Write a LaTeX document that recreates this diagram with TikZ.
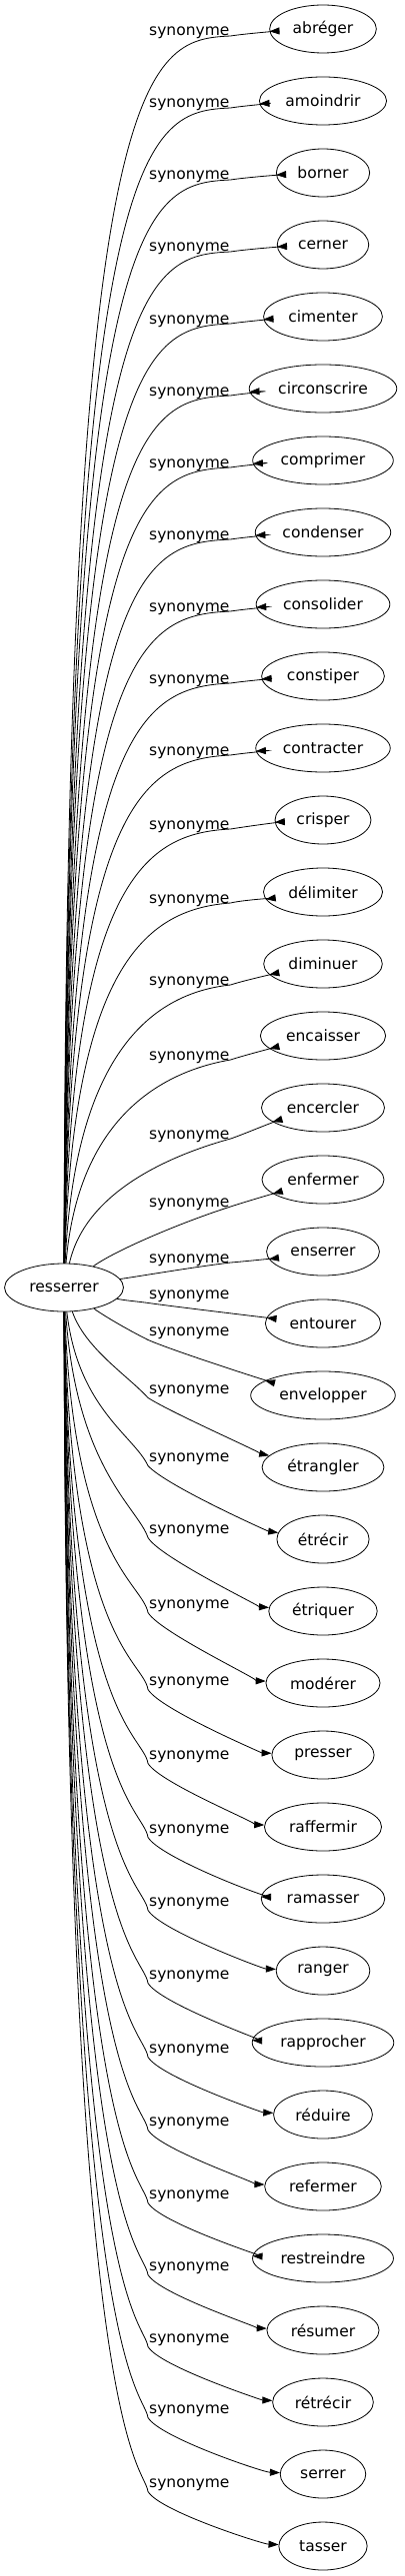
\documentclass[tikz,border=0pt]{standalone}
\usepackage{fontspec}
\setmainfont{DejaVu Sans}
\usetikzlibrary{shapes.geometric,arrows.meta}

\begin{document}
\begin{tikzpicture}[x=1pt,y=-1pt]
	\tikzstyle{nd} = [draw,ellipse,line width=0.8pt,inner xsep=7.4pt,inner ysep=2pt,minimum height=48pt,font=\fontsize{15.5}{18}\selectfont];
	\tikzstyle{lb} = [anchor=base west,inner sep=1pt,font=\fontsize{15.5}{18}\selectfont];
	\tikzstyle{ed} = [draw,line width=0.8pt,-{Triangle[length=10pt,width=7pt]}];
	\useasboundingbox (0,0) rectangle (404,2579);
	% source and targets
	\node [nd] (r) at (64,1289) {resserrer};
	\node [nd] (abreger) at (323,29) {abréger};
	\node [nd] (amoindrir) at (323,101) {amoindrir};
	\node [nd] (borner) at (323,173) {borner};
	\node [nd] (cerner) at (323,245) {cerner};
	\node [nd] (cimenter) at (323,317) {cimenter};
	\node [nd] (circonscrire) at (323,389) {circonscrire};
	\node [nd] (comprimer) at (323,461) {comprimer};
	\node [nd] (condenser) at (323,533) {condenser};
	\node [nd] (consolider) at (323,605) {consolider};
	\node [nd] (constiper) at (323,677) {constiper};
	\node [nd] (contracter) at (323,749) {contracter};
	\node [nd] (crisper) at (323,821) {crisper};
	\node [nd] (delimiter) at (323,893) {délimiter};
	\node [nd] (diminuer) at (323,965) {diminuer};
	\node [nd] (encaisser) at (323,1037) {encaisser};
	\node [nd] (encercler) at (323,1109) {encercler};
	\node [nd] (enfermer) at (323,1181) {enfermer};
	\node [nd] (enserrer) at (323,1253) {enserrer};
	\node [nd] (entourer) at (323,1325) {entourer};
	\node [nd] (envelopper) at (323,1397) {envelopper};
	\node [nd] (etrangler) at (323,1469) {étrangler};
	\node [nd] (etrecir) at (323,1541) {étrécir};
	\node [nd] (etriquer) at (323,1613) {étriquer};
	\node [nd] (moderer) at (323,1685) {modérer};
	\node [nd] (presser) at (323,1757) {presser};
	\node [nd] (raffermir) at (323,1829) {raffermir};
	\node [nd] (ramasser) at (323,1901) {ramasser};
	\node [nd] (ranger) at (323,1973) {ranger};
	\node [nd] (rapprocher) at (323,2045) {rapprocher};
	\node [nd] (reduire) at (323,2117) {réduire};
	\node [nd] (refermer) at (323,2189) {refermer};
	\node [nd] (restreindre) at (323,2261) {restreindre};
	\node [nd] (resumer) at (323,2333) {résumer};
	\node [nd] (retrecir) at (323,2405) {rétrécir};
	\node [nd] (serrer) at (323,2477) {serrer};
	\node [nd] (tasser) at (323,2549) {tasser};
	% edge labels
	\node [lb] (s0) at (148,36) {synonyme};
	\node [lb] (s1) at (148,108) {synonyme};
	\node [lb] (s2) at (148,180) {synonyme};
	\node [lb] (s3) at (148,252) {synonyme};
	\node [lb] (s4) at (148,324) {synonyme};
	\node [lb] (s5) at (148,396) {synonyme};
	\node [lb] (s6) at (148,468) {synonyme};
	\node [lb] (s7) at (148,540) {synonyme};
	\node [lb] (s8) at (148,612) {synonyme};
	\node [lb] (s9) at (148,684) {synonyme};
	\node [lb] (s10) at (148,756) {synonyme};
	\node [lb] (s11) at (148,830) {synonyme};
	\node [lb] (s12) at (148,904) {synonyme};
	\node [lb] (s13) at (148,986) {synonyme};
	\node [lb] (s14) at (148,1061) {synonyme};
	\node [lb] (s15) at (148,1140) {synonyme};
	\node [lb] (s16) at (148,1208) {synonyme};
	\node [lb] (s17) at (148,1264) {synonyme};
	\node [lb] (s18) at (148,1300) {synonyme};
	\node [lb] (s19) at (148,1337) {synonyme};
	\node [lb] (s20) at (148,1395) {synonyme};
	\node [lb] (s21) at (148,1463) {synonyme};
	\node [lb] (s22) at (148,1535) {synonyme};
	\node [lb] (s23) at (148,1610) {synonyme};
	\node [lb] (s24) at (148,1687) {synonyme};
	\node [lb] (s25) at (148,1761) {synonyme};
	\node [lb] (s26) at (148,1835) {synonyme};
	\node [lb] (s27) at (148,1908) {synonyme};
	\node [lb] (s28) at (148,1981) {synonyme};
	\node [lb] (s29) at (148,2055) {synonyme};
	\node [lb] (s30) at (148,2128) {synonyme};
	\node [lb] (s31) at (148,2201) {synonyme};
	\node [lb] (s32) at (148,2273) {synonyme};
	\node [lb] (s33) at (148,2345) {synonyme};
	\node [lb] (s34) at (148,2416) {synonyme};
	\node [lb] (s35) at (148,2490) {synonyme};
	% upper edges
	\draw [ed] (r) .. controls (66,56) and +(-84,4) .. (s0.base east) .. controls +(12,-2) and +(-45,2) .. (abreger);
	\draw [ed] (r) .. controls (67,128) and +(-84,4) .. (s1.base east) .. controls +(12,-2) and +(-45,2) .. (amoindrir);
	\draw [ed] (r) .. controls (67,200) and +(-84,4) .. (s2.base east) .. controls +(12,-2) and +(-45,2) .. (borner);
	\draw [ed] (r) .. controls (68,272) and +(-84,4) .. (s3.base east) .. controls +(12,-2) and +(-45,2) .. (cerner);
	\draw [ed] (r) .. controls (68,344) and +(-84,4) .. (s4.base east) .. controls +(12,-2) and +(-45,2) .. (cimenter);
	\draw [ed] (r) .. controls (69,416) and +(-84,4) .. (s5.base east) .. controls +(12,-2) and +(-45,2) .. (circonscrire);
	\draw [ed] (r) .. controls (69,488) and +(-84,4) .. (s6.base east) .. controls +(12,-2) and +(-45,2) .. (comprimer);
	\draw [ed] (r) .. controls (70,560) and +(-84,4) .. (s7.base east) .. controls +(12,-2) and +(-45,2) .. (condenser);
	\draw [ed] (r) .. controls (70,640) and +(-84,4) .. (s8.base east) .. controls +(12,-2) and +(-45,2) .. (consolider);
	\draw [ed] (r) .. controls (71,720) and +(-84,4) .. (s9.base east) .. controls +(12,-2) and +(-45,2) .. (constiper);
	\draw [ed] (r) .. controls (71,800) and +(-84,4) .. (s10.base east) .. controls +(12,-2) and +(-45,2) .. (contracter);
	\draw [ed] (r) .. controls (72,880) and +(-84,4) .. (s11.base east) .. controls +(12,-2) and +(-45,2) .. (crisper);
	\draw [ed] (r) .. controls (73,960) and +(-80,6) .. (s12.base east) .. controls +(12,-3) and +(-48,6) .. (delimiter);
	\draw [ed] (r) .. controls (75,1050) and +(-75,8) .. (s13.base east) .. controls +(12,-4) and +(-50,10) .. (diminuer);
	\draw [ed] (r) .. controls (78,1120) and +(-70,12) .. (s14.base east) .. controls +(12,-4) and +(-50,12) .. (encaisser);
	\draw [ed] (r) .. controls (85,1195) and +(-65,18) .. (s15.base east) .. controls +(12,-4) and +(-50,14) .. (encercler);
	\draw [ed] (r) .. controls (115,1252) and +(-50,16) .. (s16.base east) .. controls +(12,-4) and +(-50,14) .. (enfermer);
	\draw [ed] (r) .. controls (150,1276) and +(-40,5) .. (s17.base east) .. controls +(12,-1) and +(-50,7) .. (enserrer);
	% lower edges
	\draw [ed] (r) .. controls (125,1302) and +(-15,-2) .. (s18.south west) .. controls +(20,3) and +(-50,-5) .. (entourer);
	\draw [ed] (r) .. controls (105,1318) and +(-20,-10) .. (s19.south west) .. controls +(25,11) and +(-55,-14) .. (envelopper);
	\draw [ed] (r) .. controls (85,1350) and +(-20,-22) .. (s20.south west) .. controls +(25,16) and +(-55,-12) .. (etrangler);
	\draw [ed] (r) .. controls (78,1410) and +(-14,-30) .. (s21.south west) .. controls +(18,20) and +(-55,-8) .. (etrecir);
	\draw [ed] (r) .. controls (76,1470) and +(-10,-30) .. (s22.south west) .. controls +(12,20) and +(-60,-4) .. (etriquer);
	\draw [ed] (r) .. controls (73,1560) and +(-6,-30) .. (s23.south west) .. controls +(12,20) and +(-60,-2) .. (moderer);
	\draw [ed] (r) .. controls (71,1645) and +(-5,-30) .. (s24.south west) .. controls +(12,20) and +(-60,-2) .. (presser);
	\draw [ed] (r) .. controls (70,1721) and +(-5,-30) .. (s25.south west) .. controls +(12,20) and +(-60,-2) .. (raffermir);
	\draw [ed] (r) .. controls (70,1795) and +(-5,-30) .. (s26.south west) .. controls +(12,20) and +(-60,-2) .. (ramasser);
	\draw [ed] (r) .. controls (69,1868) and +(-5,-30) .. (s27.south west) .. controls +(12,20) and +(-60,-2) .. (ranger);
	\draw [ed] (r) .. controls (69,1941) and +(-5,-30) .. (s28.south west) .. controls +(12,20) and +(-60,-2) .. (rapprocher);
	\draw [ed] (r) .. controls (68,2015) and +(-5,-30) .. (s29.south west) .. controls +(12,20) and +(-60,-2) .. (reduire);
	\draw [ed] (r) .. controls (68,2088) and +(-5,-30) .. (s30.south west) .. controls +(12,20) and +(-60,-2) .. (refermer);
	\draw [ed] (r) .. controls (67,2161) and +(-5,-30) .. (s31.south west) .. controls +(12,20) and +(-60,-2) .. (restreindre);
	\draw [ed] (r) .. controls (67,2233) and +(-5,-30) .. (s32.south west) .. controls +(12,20) and +(-60,-2) .. (resumer);
	\draw [ed] (r) .. controls (66,2305) and +(-5,-30) .. (s33.south west) .. controls +(12,20) and +(-60,-2) .. (retrecir);
	\draw [ed] (r) .. controls (66,2376) and +(-5,-30) .. (s34.south west) .. controls +(12,20) and +(-60,-2) .. (serrer);
	\draw [ed] (r) .. controls (66,2450) and +(-5,-30) .. (s35.south west) .. controls +(12,20) and +(-60,-2) .. (tasser);
\end{tikzpicture}
\end{document}
